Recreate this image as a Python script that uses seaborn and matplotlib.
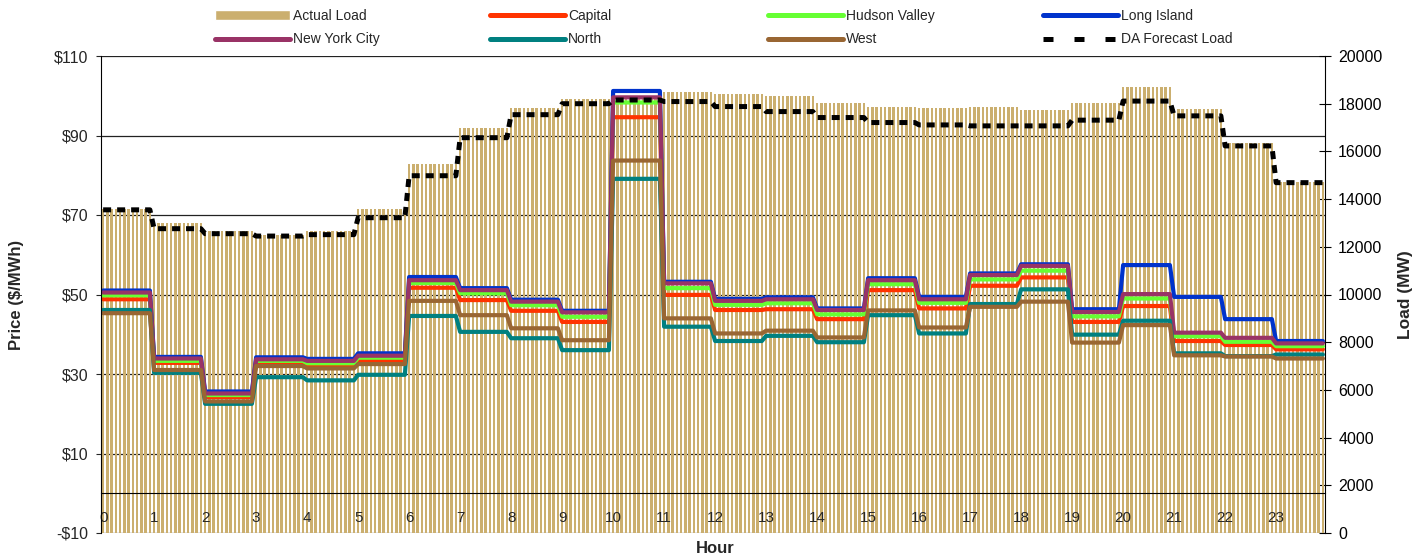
import numpy as np
import pandas as pd
import matplotlib
matplotlib.use("Agg")
import matplotlib.pyplot as plt
import matplotlib.transforms as mtransforms
from matplotlib.lines import Line2D
from matplotlib.patches import Patch
from matplotlib.ticker import FixedLocator, FuncFormatter
import seaborn as sns

# hourly values, shown on the 5-minute interval axis (12 intervals per hour)
hours = list(range(24))
intervals_per_hour = 12

actual_load = [13600, 13000, 12680, 12490, 12680, 13580, 15470, 16980, 17800, 18200, 18250, 18480,
               18400, 18320, 18050, 17880, 17820, 17880, 17750, 18050, 18680, 17790, 16350, 14700]
da_forecast = [13550, 12760, 12550, 12450, 12510, 13220, 14980, 16575, 17540, 18000, 18155, 18090,
               17880, 17670, 17420, 17210, 17110, 17070, 17070, 17310, 18110, 17490, 16230, 14690]

capital = [48.8, 32.8, 24.2, 33.0, 32.2, 33.5, 51.7, 48.6, 45.9, 43.1, 94.6, 49.9,
           46.1, 46.3, 43.8, 51.1, 46.5, 52.2, 54.3, 43.1, 47.1, 38.3, 37.3, 36.2]
hudson_valley = [49.8, 33.3, 24.7, 33.3, 32.7, 34.1, 52.9, 50.3, 47.3, 44.4, 98.3, 51.6,
                 47.4, 47.8, 45.0, 52.6, 47.9, 53.8, 56.0, 44.5, 49.0, 39.5, 38.1, 37.0]
long_island = [51.0, 34.3, 25.6, 34.2, 33.8, 35.2, 54.4, 51.6, 48.7, 45.9, 101.2, 53.2,
               48.9, 49.3, 46.5, 54.1, 49.4, 55.3, 57.6, 46.3, 57.4, 49.4, 43.8, 38.3]
new_york_city = [50.5, 33.9, 25.1, 33.7, 33.3, 34.6, 53.6, 51.1, 48.2, 45.5, 99.6, 52.8,
                 48.4, 48.8, 46.1, 53.6, 48.8, 54.9, 57.2, 45.6, 50.1, 40.4, 39.1, 37.7]
north = [46.1, 30.3, 22.5, 29.2, 28.4, 29.8, 44.6, 40.6, 39.0, 36.0, 79.1, 41.9,
         38.3, 39.6, 38.0, 44.8, 40.2, 47.6, 51.3, 39.9, 43.4, 35.2, 34.5, 34.9]
west = [45.3, 31.0, 23.1, 32.0, 31.4, 32.5, 48.4, 44.8, 41.5, 38.5, 83.7, 44.0,
        40.2, 40.9, 39.2, 46.0, 41.7, 46.9, 48.2, 37.9, 42.3, 34.7, 34.4, 33.9]

zones = ["Capital", "Hudson Valley", "Long Island", "New York City", "North", "West"]
zone_colors = {"Capital": "#FF3300", "Hudson Valley": "#66FF33", "Long Island": "#0033CC",
               "New York City": "#993366", "North": "#008080", "West": "#996633"}
load_color = "#CBAF6F"

price_ticks = [-10, 10, 30, 50, 70, 90, 110]
load_ticks = list(range(0, 20001, 2000))

# expand hourly values onto the interval axis
interval = np.arange(len(hours) * intervals_per_hour)
def expand(values):
    return np.repeat(values, intervals_per_hour)

load_df = pd.DataFrame({"interval": interval, "load": expand(actual_load)})
price_df = pd.DataFrame({"interval": interval})
for name, vals in zip(zones, [capital, hudson_valley, long_island, new_york_city, north, west]):
    price_df[name] = expand(vals)
price_long = price_df.melt(id_vars="interval", var_name="zone", value_name="price")

sns.set_style("white")
plt.rcParams["font.family"] = ["Liberation Sans", "DejaVu Sans"]

fig = plt.figure(figsize=(14.22, 5.57), dpi=100)
fig.patch.set_facecolor("white")
ax_price = fig.add_axes([101 / 1422, 1 - 533 / 557, 1224 / 1422, 477 / 557])
ax_load = ax_price.twinx()
ax_da = ax_price.twinx()
ax_load.set_zorder(0)
ax_price.set_zorder(1)
ax_da.set_zorder(2)
for a in (ax_price, ax_load, ax_da):
    a.patch.set_visible(False)

# load bars (bottom layer)
sns.barplot(data=load_df, x="interval", y="load", native_scale=True, color=load_color,
            saturation=1, width=0.55, errorbar=None, linewidth=0, ax=ax_load)
ax_load.set_ylim(0, 20000)
ax_load.set_yticks(load_ticks)
ax_load.set_xlabel("")
ax_load.set_ylabel("Load (MW)", fontsize=12.5, fontweight="bold")
ax_load.yaxis.set_label_coords(1.0597, 0.5)
ax_load.tick_params(axis="y", direction="inout", length=9, width=0.8, pad=5,
                    labelsize=11.5, colors="black")

# horizontal grid at the price ticks, behind the bars
grid_tf = mtransforms.blended_transform_factory(ax_load.transAxes, ax_price.transData)
ax_load.hlines(price_ticks, 0, 1, transform=grid_tf, colors="#222222", lw=0.9, zorder=0.5)

# zonal price lines
sns.lineplot(data=price_long, x="interval", y="price", hue="zone", hue_order=zones,
             palette=zone_colors, lw=3.0, errorbar=None, legend=False, ax=ax_price,
             solid_joinstyle="round", solid_capstyle="round")
ax_price.set_ylim(-10, 110)
ax_price.set_yticks(price_ticks)
ax_price.yaxis.set_major_formatter(FuncFormatter(lambda v, _: f"-${-v:.0f}" if v < 0 else f"${v:.0f}"))
ax_price.set_ylabel("Price ($/MWh)", fontsize=12, fontweight="bold")
ax_price.yaxis.set_label_coords(-0.0626, 0.5)
ax_price.tick_params(axis="y", direction="out", length=3.5, width=0.8, pad=5.5, labelsize=11.5)

ax_price.set_xlim(-0.5, len(interval) - 0.5)
ax_price.set_xticks(interval[::intervals_per_hour], labels=[str(h) for h in hours])
ax_price.xaxis.set_minor_locator(FixedLocator(interval))
ax_price.tick_params(axis="x", which="major", length=0, pad=13, labelsize=11)
ax_price.tick_params(axis="x", which="minor", length=4, width=0.6, color="#555555", direction="inout")
ax_price.set_xlabel("Hour", fontsize=12, fontweight="bold")
ax_price.xaxis.set_label_coords(0.5016, -0.016)

# DA forecast load on top of everything
sns.lineplot(x=interval, y=expand(da_forecast), color="black", lw=3.6, errorbar=None,
             linestyle=(0, (1.6, 1.2)), ax=ax_da)
ax_da.set_ylim(0, 20000)
ax_da.set_xlim(-0.5, len(interval) - 0.5)
ax_da.yaxis.set_visible(False)

for a in (ax_price, ax_load, ax_da):
    for s in a.spines.values():
        s.set_visible(False)
ax_price.spines["left"].set_visible(True)
ax_price.spines["left"].set_color("black")
ax_price.spines["bottom"].set_visible(True)
ax_price.spines["bottom"].set_position(("data", 0))
ax_price.spines["bottom"].set_color("black")
ax_load.spines["right"].set_visible(True)
ax_load.spines["right"].set_color("black")

# legend: two rows, four evenly placed columns
lw_leg = 3.6
legend_columns = [
    [Patch(facecolor=load_color, label="Actual Load"),
     Line2D([], [], color=zone_colors["New York City"], lw=lw_leg, solid_capstyle="round", label="New York City")],
    [Line2D([], [], color=zone_colors["Capital"], lw=lw_leg, solid_capstyle="round", label="Capital"),
     Line2D([], [], color=zone_colors["North"], lw=lw_leg, solid_capstyle="round", label="North")],
    [Line2D([], [], color=zone_colors["Hudson Valley"], lw=lw_leg, solid_capstyle="round", label="Hudson Valley"),
     Line2D([], [], color=zone_colors["West"], lw=lw_leg, solid_capstyle="round", label="West")],
    [Line2D([], [], color=zone_colors["Long Island"], lw=lw_leg, solid_capstyle="round", label="Long Island"),
     Line2D([], [], color="black", lw=lw_leg, linestyle=(0, (2.0, 4.2)), label="DA Forecast Load")],
]
col_x = [215, 490, 768, 1043]
for x0, handles in zip(col_x, legend_columns):
    fig.legend(handles=handles, loc="upper left", bbox_to_anchor=(x0 / 1422, 1 - 9 / 557),
               frameon=False, fontsize=10, handlelength=5.4, handletextpad=0.2,
               labelspacing=0.68, borderpad=0, borderaxespad=0)

fig.savefig("out.png", dpi=100, facecolor="white")
